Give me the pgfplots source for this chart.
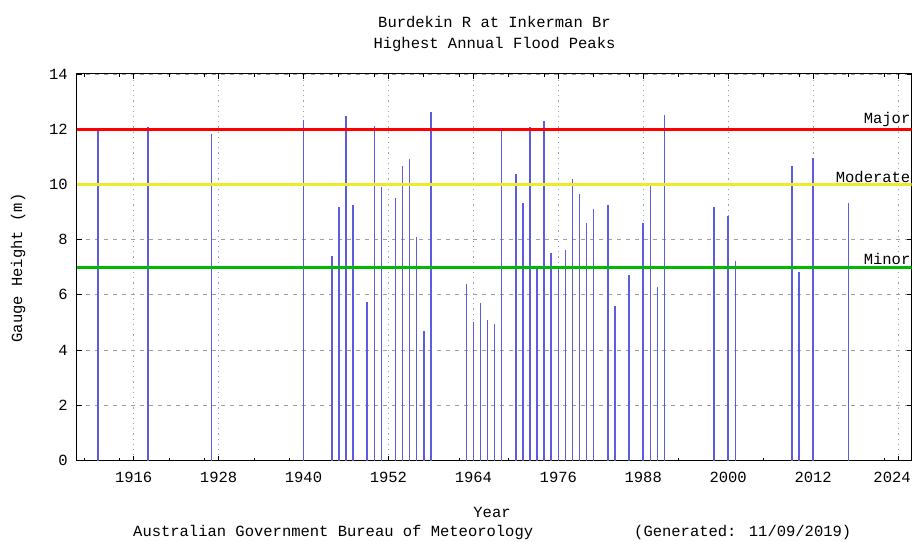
\documentclass[border=0pt]{standalone}
\usepackage{fontspec}
\setmainfont{Liberation Mono}
\usepackage{pgfplots}
\pgfplotsset{compat=1.18}
\definecolor{barblue}{RGB}{92,92,224}
\definecolor{majred}{RGB}{255,0,0}
\definecolor{modyellow}{RGB}{235,235,40}
\definecolor{mingreen}{RGB}{0,185,0}
\begin{document}
\fontsize{15.5bp}{18bp}\selectfont
\begin{tikzpicture}
\useasboundingbox (-77bp,-81.5bp) rectangle (837bp,460.5bp);
\begin{axis}[
  at={(0,0)}, anchor=south west,
  scale only axis, width=834.5bp, height=386.5bp,
  xmin=1908, xmax=2025.9, ymin=0, ymax=14,
  xtick={1916,1928,...,2024},
  xticklabels={1916,1928,1940,1952,1964,1976,1988,2000,2012,\hspace*{-12bp}2024},
  ytick={0,2,...,14},
  minor xtick={1909,1914,1921,1926,1933,1938,1945,1950,1957,1962,1969,1974,1981,1986,1993,1998,2005,2010,2017,2022},
  tick align=inside,
  major tick length=5bp, minor tick length=3bp,
  tick style={black, line width=0.8bp},
  xmajorgrids, ymajorgrids,
  x grid style={gray!75, line width=0.8bp, dash pattern=on 1.2bp off 4bp},
  y grid style={gray!75, line width=0.8bp, dash pattern=on 4bp off 5bp},
  axis line style={black, line width=1bp},
  /pgf/number format/assume math mode=true,
  xticklabel style={/pgf/number format/1000 sep={}, yshift=-6bp},
  yticklabel style={xshift=-4bp},
  ticklabel style={font=\fontsize{15.5bp}{18bp}\selectfont},
]
\addplot[ycomb, barblue, line width=1.5bp, mark=none] coordinates {
(1911,12.00) (1918,12.07) (1927,11.82) (1940,12.34) (1944,7.41) (1945,9.18)
(1946,12.47) (1947,9.24) (1949,5.73) (1950,12.13) (1951,9.92) (1953,9.51)
(1954,10.65) (1955,10.92) (1956,8.10) (1957,4.69) (1958,12.63) (1963,6.40)
(1964,5.02) (1965,5.70) (1966,5.09) (1967,4.96) (1968,12.03) (1970,10.36)
(1971,9.32) (1972,12.07) (1973,6.94) (1974,12.28) (1975,7.52) (1976,7.01)
(1977,7.61) (1978,10.19) (1979,9.66) (1980,8.59) (1981,9.11) (1983,9.26)
(1984,5.58) (1986,6.72) (1988,8.59) (1989,10.01) (1990,6.27) (1991,12.52)
(1998,9.17) (2000,8.84) (2001,7.24) (2009,10.65) (2010,6.83) (2012,10.96)
(2017,9.32)
};
\addplot[majred, line width=3bp, mark=none] coordinates {(1908,12) (2025.9,12)};
\addplot[modyellow, line width=3bp, mark=none] coordinates {(1908,10) (2025.9,10)};
\addplot[mingreen, line width=3bp, mark=none] coordinates {(1908,7) (2025.9,7)};
\node[anchor=south east, inner sep=1bp, yshift=1bp] at (axis cs:2025.9,12) {Major};
\node[anchor=south east, inner sep=1bp, yshift=1bp] at (axis cs:2025.9,10) {Moderate};
\node[anchor=south east, inner sep=1bp, yshift=1bp] at (axis cs:2025.9,7) {Minor};
\end{axis}
\node at (417.5bp,438.5bp) {Burdekin R at Inkerman Br};
\node at (417.5bp,416.5bp) {Highest Annual Flood Peaks};
\node at (415bp,-51.5bp) {Year};
\node[anchor=west, inner sep=0pt] at (56bp,-71.5bp) {Australian Government Bureau of Meteorology};
\node[anchor=west, inner sep=0pt] at (557bp,-71.5bp) {(Generated: 11/09/2019)};
\node[rotate=90] at (-59bp,192.5bp) {Gauge Height (m)};
\end{tikzpicture}
\end{document}
